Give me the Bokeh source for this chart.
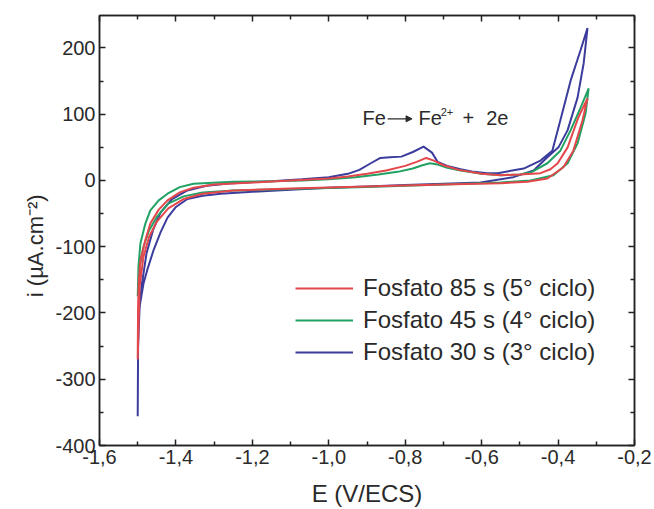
from bokeh.plotting import figure
from bokeh.models import (FixedTicker, LinearAxis, CustomJSTickFormatter, Legend,
                          LegendItem, Arrow, NormalHead, Label, Range1d)
from bokeh.embed import file_html
from bokeh.resources import INLINE

# ---------------- data ----------------
# Fosfato 85 s (5° ciclo)
e_85 = [-1.5, -1.499, -1.497, -1.493, -1.48, -1.467, -1.445, -1.422, -1.39, -1.354, -1.3, -1.2,
        -1.1, -1.0, -0.95, -0.9, -0.85, -0.8, -0.77, -0.745, -0.725, -0.7, -0.66, -0.6, -0.55,
        -0.5, -0.446, -0.42, -0.401, -0.375, -0.347, -0.323,
        -0.336, -0.36, -0.386, -0.428, -0.48, -0.55, -0.7, -0.9, -1.1, -1.25, -1.33, -1.38,
        -1.42, -1.45, -1.47, -1.485, -1.495, -1.5]
i_85 = [-270, -190, -150, -121, -90, -65, -44, -30, -18, -11, -6, -3,
        0, 3, 6, 10, 15, 22, 28, 34, 30, 23, 16, 10, 8,
        9, 11, 17, 26, 50, 95, 124,
        91, 45, 20, 3, -2, -4, -6, -9, -12, -15, -20, -28,
        -42, -62, -85, -115, -160, -270]

# Fosfato 45 s (4° ciclo)
e_45 = [-1.5, -1.498, -1.493, -1.48, -1.467, -1.445, -1.422, -1.39, -1.354, -1.25, -1.15, -1.07,
        -1.0, -0.93, -0.87, -0.82, -0.78, -0.755, -0.735, -0.715, -0.69, -0.655, -0.6, -0.55,
        -0.5, -0.472, -0.428, -0.394, -0.367, -0.341, -0.32,
        -0.328, -0.349, -0.375, -0.412, -0.472, -0.55, -0.7, -0.9, -1.1, -1.25, -1.33, -1.38,
        -1.42, -1.45, -1.47, -1.485, -1.495, -1.5]
i_45 = [-175, -130, -95, -65, -45, -30, -20, -10, -5, -2, -1, 0,
        2, 5, 9, 13, 18, 23, 26, 24, 19, 15, 10, 8,
        9, 12, 26, 45, 76, 110, 139,
        101, 56, 26, 8, 0, -3, -6, -10, -13, -15, -18, -24,
        -35, -55, -75, -100, -130, -175]

# Fosfato 30 s (3° ciclo)
e_30 = [-1.5, -1.499, -1.498, -1.49, -1.477, -1.46, -1.44, -1.41, -1.37, -1.32, -1.25, -1.15,
        -1.07, -1.0, -0.95, -0.92, -0.89, -0.865, -0.84, -0.81, -0.78, -0.752, -0.73, -0.715,
        -0.69, -0.655, -0.62, -0.585, -0.558, -0.52, -0.49, -0.446, -0.415, -0.394, -0.367,
        -0.341, -0.323,
        -0.333, -0.349, -0.375, -0.399, -0.428, -0.464, -0.517, -0.603, -0.7, -0.8, -0.9, -1.0,
        -1.1, -1.2, -1.283, -1.33, -1.37, -1.4, -1.422, -1.44, -1.459, -1.475, -1.485, -1.495,
        -1.499, -1.5]
i_30 = [-356, -250, -212, -160, -110, -75, -48, -28, -15, -8, -4, -1,
        2, 5, 10, 16, 26, 34, 35, 36, 43, 51, 42, 28,
        22, 17, 13, 11, 11, 15, 18, 30, 45, 91, 151,
        197, 230,
        177, 125, 76, 50, 35, 15, 5, -3, -5, -7, -9, -11,
        -14, -17, -20, -23, -28, -40, -56, -78, -106, -135, -156, -190,
        -250, -356]

series_labels = ["Fosfato 85 s (5° ciclo)", "Fosfato 45 s (4° ciclo)", "Fosfato 30 s (3° ciclo)"]
series_colors = ["#e4474b", "#21a163", "#3c3c9c"]

x_ticks = [-1.6, -1.4, -1.2, -1.0, -0.8, -0.6, -0.4, -0.2]
x_minor = [-1.5, -1.3, -1.1, -0.9, -0.7, -0.5, -0.3]
y_ticks = [-400, -300, -200, -100, 0, 100, 200]
y_minor = [-350, -250, -150, -50, 50, 150]

FONT = "Liberation Sans"
TXT = "#2a2a2a"
NBSP = "\u00a0"

p = figure(width=654, height=509, output_backend="svg", toolbar_location=None,
           x_range=Range1d(-1.6, -0.2), y_range=Range1d(-400, 249),
           min_border_left=99, min_border_right=20, min_border_top=15, min_border_bottom=64)
p.xgrid.visible = False
p.ygrid.visible = False
p.outline_line_color = "#222222"
p.outline_line_width = 1.5
p.background_fill_color = "white"
p.border_fill_color = "white"

xt = FixedTicker(ticks=x_ticks, minor_ticks=x_minor)
yt = FixedTicker(ticks=y_ticks, minor_ticks=y_minor)

def style_axis(ax):
    ax.axis_line_color = "#222222"
    ax.axis_line_width = 1.5
    ax.major_tick_in = 6
    ax.major_tick_out = 0
    ax.minor_tick_in = 4
    ax.minor_tick_out = 0
    ax.major_tick_line_color = "#222222"
    ax.minor_tick_line_color = "#222222"
    ax.major_tick_line_width = 1.5
    ax.minor_tick_line_width = 1.5
    ax.major_label_text_font = FONT
    ax.major_label_text_color = TXT
    ax.major_label_text_font_size = "20px"
    ax.major_label_standoff = 4

xa = p.xaxis[0]
xa.ticker = xt
xa.formatter = CustomJSTickFormatter(code="return tick.toFixed(1).replace('.', ',');")
style_axis(xa)
xa.axis_label = "E (V/ECS)"
xa.axis_label_text_font = FONT
xa.axis_label_text_font_size = "24px"
xa.axis_label_text_font_style = "normal"
xa.axis_label_text_color = TXT
xa.axis_label_standoff = 13

ya = p.yaxis[0]
ya.ticker = yt
ya.formatter = CustomJSTickFormatter(code="return tick.toFixed(0);")
style_axis(ya)
ya.axis_label = "i (µA.cm⁻²)" + NBSP * 5
ya.axis_label_text_font = FONT
ya.axis_label_text_font_size = "22px"
ya.axis_label_text_font_style = "normal"
ya.axis_label_text_color = TXT
ya.axis_label_standoff = 4

blank = CustomJSTickFormatter(code="return '';")
top_ax = LinearAxis(ticker=xt, formatter=blank)
style_axis(top_ax)
top_ax.major_label_standoff = 0
p.add_layout(top_ax, "above")
right_ax = LinearAxis(ticker=yt, formatter=blank)
style_axis(right_ax)
right_ax.major_label_standoff = 0
p.add_layout(right_ax, "right")

renderers = []
for e, i, c in [(e_30, i_30, series_colors[2]), (e_45, i_45, series_colors[1]), (e_85, i_85, series_colors[0])]:
    renderers.append(p.line(e, i, line_color=c, line_width=2))
r30, r45, r85 = renderers

legend = Legend(items=[LegendItem(label=series_labels[0], renderers=[r85]),
                       LegendItem(label=series_labels[1], renderers=[r45]),
                       LegendItem(label=series_labels[2], renderers=[r30])],
                location=(196, 79), border_line_color=None, background_fill_alpha=0,
                label_text_font=FONT, label_text_font_size="24px", label_text_color=TXT,
                glyph_width=58, glyph_height=20, label_height=20, spacing=4,
                label_standoff=10, padding=0, margin=0)
p.add_layout(legend)

# reaction annotation
lab = dict(text_font=FONT, text_color=TXT, text_baseline="middle")
p.add_layout(Label(x=-0.912, y=95, text="Fe", text_font_size="20px", **lab))
p.add_layout(Arrow(x_start=-0.846, y_start=93, x_end=-0.782, y_end=93,
                   line_color=TXT, line_width=1.2,
                   end=NormalHead(size=6, fill_color=TXT, line_color=TXT)))
p.add_layout(Label(x=-0.765, y=95, text="Fe", text_font_size="20px", **lab))
p.add_layout(Label(x=-0.707, y=104, text="2+", text_font_size="11px", **lab))
p.add_layout(Label(x=-0.65, y=95, text="+", text_font_size="20px", **lab))
p.add_layout(Label(x=-0.588, y=95, text="2e", text_font_size="20px", **lab))

open("out.html", "w").write(file_html(p, INLINE))
